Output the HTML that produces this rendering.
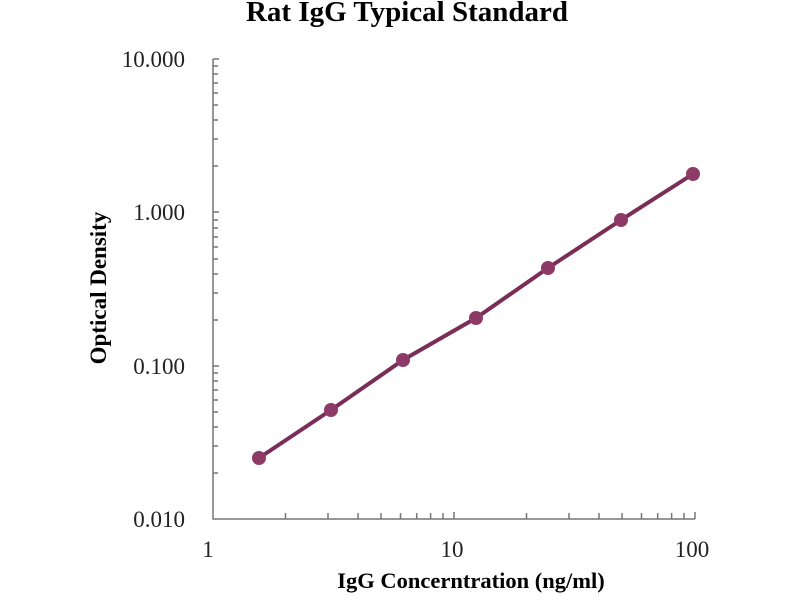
<!DOCTYPE html><html><head><style>body{margin:0;background:#fff}</style></head><body>
<svg width="800" height="600" xmlns="http://www.w3.org/2000/svg" font-family="Liberation Serif, serif">
<text x="407" y="21" text-anchor="middle" font-size="29" font-weight="bold">Rat IgG Typical Standard</text>
<g stroke="#777" stroke-width="1.5" fill="none">
<path d="M213,59 V519 H695"/>
<path d="M213,59h6M213,212h6M213,366h6"/>
<path id="my" d="M213,473h5M213,446h5M213,427h5M213,412h5M213,400h5M213,390h5M213,381h5M213,373h5"/>
<use href="#my" transform="translate(0,-153)"/><use href="#my" transform="translate(0,-307)"/>
<path id="mx" d="M285.5,519v-6M328,519v-6M358,519v-6M381,519v-6M400.5,519v-6M416.7,519v-6M430.6,519v-6M443,519v-6"/>
<use href="#mx" transform="translate(241,0)"/>
<path d="M454,519v-7M695,519v-7"/>
</g>
<g font-size="23" text-anchor="end" fill="#222">
<text x="185" y="67">10.000</text><text x="185" y="220">1.000</text><text x="185" y="374">0.100</text><text x="185" y="527">0.010</text>
</g>
<g font-size="23" text-anchor="middle" fill="#222">
<text x="208" y="557">1</text><text x="452" y="557">10</text><text x="692" y="557">100</text>
</g>
<text x="471" y="588" text-anchor="middle" font-size="22.5" font-weight="bold">IgG Concerntration (ng/ml)</text>
<text transform="translate(106,288) rotate(-90)" text-anchor="middle" font-size="23" font-weight="bold">Optical Density</text>
<polyline points="259,458 331,410 403,360 476,318 548,268 621,220 693,174" fill="none" stroke="#7a2d57" stroke-width="4"/>
<g fill="#8e3a66">
<circle cx="259" cy="458" r="7"/><circle cx="331" cy="410" r="7"/><circle cx="403" cy="360" r="7"/><circle cx="476" cy="318" r="7"/><circle cx="548" cy="268" r="7"/><circle cx="621" cy="220" r="7"/><circle cx="693" cy="174" r="7"/>
</g>
</svg></body></html>
